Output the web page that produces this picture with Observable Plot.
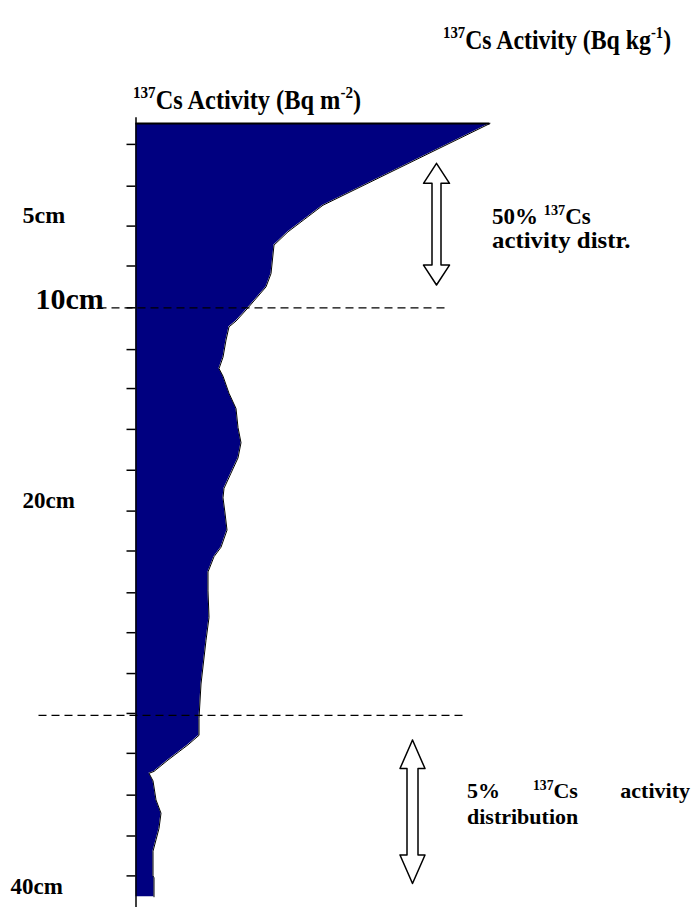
<!DOCTYPE html>
<html><head><meta charset="utf-8">
<script src="https://cdn.jsdelivr.net/npm/d3@7"></script>
<script src="https://cdn.jsdelivr.net/npm/@observablehq/plot@0.6"></script>
<style>
body{margin:0;background:#fff;}
#wrap{position:relative;width:694px;height:907px;font-family:"Liberation Serif","Times New Roman",serif;font-weight:bold;color:#000;}
#wrap svg{position:absolute;left:0;top:0;}
.t{position:absolute;white-space:nowrap;line-height:1;}
sup{font-size:0.62em;vertical-align:0;position:relative;top:-0.62em;line-height:0;}
</style></head>
<body><div id="wrap"></div>
<script>
// Depth profile (cm) and 137Cs activity (arbitrary units)
const depth = [0, 4.3, 5.7, 6.4, 7.9, 8.6, 9.7, 10.4, 10.7, 11.4, 12.3, 12.9, 13.3, 14.2, 15.0, 16.0, 16.8, 17.6, 18.4, 19.2, 19.7, 20.5, 21.4, 22.3, 22.8, 23.6, 24.6, 26.0, 27.2, 29.5, 31.3, 32.2, 32.7, 33.5, 34.1, 34.2, 34.6, 35.6, 36.3, 37.1, 37.7, 38.3, 39.6, 39.7, 40.7];
const activity = [354, 187, 152, 138, 135, 130, 112, 100, 93, 90, 87, 83, 87, 93, 100, 102, 105, 102, 95, 88, 87, 89, 91, 85, 78, 72, 72, 73, 70, 65, 63, 63, 52, 32, 18, 13, 17, 20, 25, 23, 20, 17, 17, 18, 18];
// Axis tick marks (depth, cm)
const tickDepths = [1.1, 3.3, 5.4, 7.5, 9.7, 11.9, 13.95, 16.1, 18.25, 20.4, 22.5, 24.7, 26.8, 28.95, 31.05, 33.15, 35.35, 37.5, 39.6];
// Depth labels
const depthLabels = ["5cm", "10cm", "20cm", "40cm"];
const depthLabelDepth = [4.85, 9.25, 19.85, 40.15];
// Reference (dashed) lines at the 50% and 5% limits
const limitDepth = [9.7, 31.15];
// Double arrows: centre activity, top depth, bottom depth
const arrowX = [300.5, 276.5];
const arrowTop = [2.1, 32.45];
const arrowBottom = [8.5, 40.0];

// styling (positions / sizes) kept apart from the data
const labelX = [-113.5, -100.5, -113.5, -125.5];
const labelSize = [24, 30, 23, 23];
const limitFrom = [-37, -97], limitTo = [314, 332];
const headLen = [1.05, 1.5], headHalf = [13, 12.5], shaftHalf = [4.5, 5.5];

const profile = depth.map((d, i) => ({depth: d, activity: activity[i]}));
const ticks = tickDepths.map(d => ({depth: d}));
const labels = depthLabels.map((t, i) => ({text: t, depth: depthLabelDepth[i], x: labelX[i], size: labelSize[i]}));
const limits = limitDepth.map((d, i) => ({depth: d, x1: limitFrom[i], x2: limitTo[i]}));

const arrowPts = [];
arrowX.forEach((cx, i) => {
  const t = arrowTop[i], b = arrowBottom[i], h = headLen[i], H = headHalf[i], s = shaftHalf[i];
  const pts = [[cx, t], [cx + H, t + h], [cx + s, t + h], [cx + s, b - h], [cx + H, b - h], [cx, b],
               [cx - H, b - h], [cx - s, b - h], [cx - s, t + h], [cx - H, t + h], [cx, t]];
  pts.forEach(([x, y]) => arrowPts.push({id: i, x, y}));
});

const chart = Plot.plot({
  width: 694, height: 907,
  marginLeft: 0, marginRight: 0, marginTop: 0, marginBottom: 0,
  x: {domain: [0, 354.5], range: [135.5, 490], axis: null},
  y: {domain: [0, 40], range: [123, 883], axis: null},
  style: {background: "white", fontFamily: "Liberation Serif, Times New Roman, serif"},
  marks: [
    Plot.areaX(profile, {y: "depth", x1: 0, x2: "activity", fill: "#000080", curve: "linear"}),
    Plot.lineX(profile, {y: "depth", x: "activity", stroke: "#000", strokeWidth: 1, curve: "linear"}),
    Plot.ruleY([0], {x1: 0, x2: activity[0], stroke: "#000", strokeWidth: 2}),
    Plot.ruleX([0], {y1: -0.3, y2: 41.5, stroke: "#000", strokeWidth: 1.5}),
    Plot.ruleY(ticks, {y: "depth", x1: -9, x2: 0, stroke: "#000", strokeWidth: 1.5}),
    Plot.ruleY(limits, {y: "depth", x1: "x1", x2: "x2", stroke: "#000", strokeWidth: 1.2, strokeDasharray: "8,5"}),
    Plot.line(arrowPts, {x: "x", y: "y", z: "id", fill: "white", stroke: "#000", strokeWidth: 1.5, curve: "linear"}),
    Plot.text(labels, {x: "x", y: "depth", text: "text", fontSize: "size", textAnchor: "start", fontWeight: "bold", fill: "#000"})
  ]
});
document.getElementById("wrap").appendChild(chart);

const html = [
  {style: "left:443px;top:26px;font-size:28px;transform:scaleX(0.85);transform-origin:0 0;", h: "<sup>137</sup>Cs Activity (Bq kg<sup>-1</sup>)"},
  {style: "left:133px;top:86px;font-size:28px;transform:scaleX(0.87);transform-origin:0 0;", h: "<sup>137</sup>Cs Activity (Bq m<sup>-2</sup>)"},
  {style: "left:492px;top:205px;font-size:23px;", h: "50% <sup>137</sup>Cs"},
  {style: "left:492px;top:229px;font-size:23px;transform:scaleX(1.08);transform-origin:0 0;", h: "activity distr."},
  {style: "left:467px;top:780px;font-size:22px;", h: "5%"},
  {style: "left:533px;top:780px;font-size:22px;", h: "<sup>137</sup>Cs"},
  {style: "right:4px;top:780px;font-size:22px;", h: "activity"},
  {style: "left:467px;top:806px;font-size:22px;", h: "distribution"}
];
html.forEach(o => {
  const d = document.createElement("div");
  d.className = "t"; d.setAttribute("style", o.style); d.innerHTML = o.h;
  document.getElementById("wrap").appendChild(d);
});
</script>
</body></html>
